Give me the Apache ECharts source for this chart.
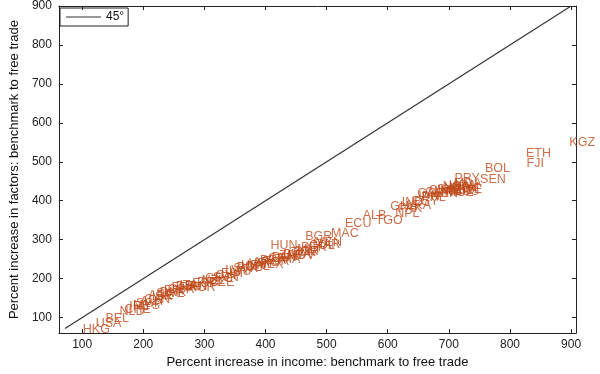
<!DOCTYPE html>
<html><head><meta charset="utf-8">
<script src="https://cdn.jsdelivr.net/npm/echarts@6/dist/echarts.min.js"></script>
<style>html,body{margin:0;padding:0;background:#fff}#c{width:600px;height:374px}</style>
</head><body><div id="c"></div>
<script>
const countries = ["HKG","USA","BEL","NLD","CHE","IRL","MYS","SGP","AUT","CAN","ARE","ISR","SWE","DNK","FIN","GBR","FRA","DEU","ITA","JPN","KOR","ESP","PRT","NZL","GRC","CZE","SVN","CYP",
"EST","LVA","LTU","SVK","POL","HRV","CHL","URY","ARG","MEX","BRA","TUR","CRI","PAN","THA","ZAF","BWA","MDV","TUN","JOR","HUN","MLT","BGR","PER","COL","MAR","VEN","MAC",
"ECU","ALB","TGO","NPL","GHA","IND","PAK","LKA","EGY","IDN","PHL","GAB","CMR","CIV","KEN","SYR","NIC","HND","BGD","GTM","ZWE","MUS","NGA","UGA","MOZ","PRY","MDA","SEN","BOL","ETH","FJI","KGZ"];
const incomeIncrease = [101,122,138,161,169,177,183,188,195,201,208,214,221,227,234,240,246,253,259,266,274,280,288,295,301,308,314,318,
327,334,340,347,353,360,366,372,379,385,391,397,404,410,416,422,429,435,441,446,408,452,465,458,471,477,483,507,
530,559,580,612,604,623,617,632,640,650,655,648,661,667,673,680,686,692,698,704,709,704,690,700,695,709,708,751,759,826,827,897];
const factorIncrease = [68,85,97,115,121,127,132,136,142,147,157,154,161,164,169,172,177,179,182,179,177,187,189,194,199,190,202,207,
214,221,218,226,229,233,231,238,241,236,246,244,251,255,249,258,262,260,266,270,286,275,308,280,284,287,292,316,
341,361,348,368,385,396,380,388,399,410,407,418,420,425,418,428,424,430,427,433,429,423,436,440,420,458,443,455,483,520,495,550];
const lineX = [72, 900];
const lineY = [72, 900];
const tickValues = [100,200,300,400,500,600,700,800,900];

const pts = countries.map((c,i)=>({value:[incomeIncrease[i], factorIncrease[i]], name:c}));
const font = '"Liberation Sans", Arial, sans-serif';
function axisBase(extra){
  return Object.assign({
    type:'value', splitLine:{show:false},
    axisLine:{show:true, onZero:false, lineStyle:{color:'#222', width:1}},
    axisTick:{show:true, inside:true, length:4, customValues:tickValues, lineStyle:{color:'#222'}},
  }, extra);
}
const chart = echarts.init(document.getElementById('c'));
chart.setOption({
  animation:false,
  backgroundColor:'#fff',
  grid:{left:53, right:24, top:5, bottom:31},
  legend:{show:true, left:60, top:8, orient:'horizontal', padding:[3,4,3,6],
    borderColor:'#222', borderWidth:1, itemWidth:35, itemHeight:1, itemGap:5,
    textStyle:{fontFamily:font, fontSize:12, color:'#111'},
    data:[{name:'45°', icon:'rect', itemStyle:{color:'#333'}}]},
  xAxis:[
    axisBase({position:'bottom', min:62, max:908,
      axisLabel:{show:true, customValues:tickValues, margin:6, fontFamily:font, fontSize:12, color:'#222'},
      name:'Percent increase in income: benchmark to free trade', nameLocation:'middle', nameGap:15,
      nameTextStyle:{fontFamily:font, fontSize:13, color:'#111'}}),
    axisBase({position:'top', min:62, max:908, axisLabel:{show:false}})
  ],
  yAxis:[
    axisBase({position:'left', min:60, max:900,
      axisLabel:{show:true, customValues:tickValues, margin:7, fontFamily:font, fontSize:12, color:'#222'},
      name:'Percent increase in factors: benchmark to free trade', nameLocation:'middle', nameGap:28,
      nameTextStyle:{fontFamily:font, fontSize:13, color:'#111'}}),
    axisBase({position:'right', min:60, max:900, axisLabel:{show:false}})
  ],
  series:[
    {name:'45°', type:'line', xAxisIndex:0, yAxisIndex:0, data:lineX.map((v,i)=>[v,lineY[i]]),
      symbol:'none', lineStyle:{color:'#333', width:1.2}, itemStyle:{color:'#333'}},
    {name:'countries', type:'scatter', xAxisIndex:0, yAxisIndex:0, data:pts,
      symbolSize:0.1, itemStyle:{color:'rgba(0,0,0,0)'},
      label:{show:true, position:'right', distance:0, formatter:p=>p.name,
        fontFamily:font, fontSize:12.5, color:'#bf4a1a'}}
  ]
});
</script></body></html>
